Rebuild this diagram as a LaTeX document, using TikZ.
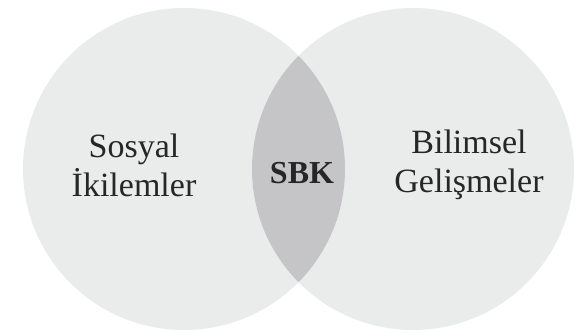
\documentclass[tikz,border=0pt]{standalone}
\usepackage{fontspec}
\setmainfont{Liberation Serif}
\definecolor{kumegri}{HTML}{EAEBEB}
\definecolor{kesisim}{HTML}{C5C5C7}
\definecolor{yazi}{HTML}{262626}
\begin{document}
\begin{tikzpicture}[x=1pt,y=1pt,
  kume/.style ={circle, fill=kumegri, minimum size=322pt, inner sep=0pt},
  etiket/.style ={align=center, text=yazi, font=\fontsize{34}{39}\selectfont}]
  \useasboundingbox (0,0) rectangle (575,334);
  \node[kume] (sol) at (184,165) {};
  \node[kume] (sag) at (413,165) {};
  % kesisim bolgesi
  \begin{scope}
    \clip (sol.center) circle (161);
    \fill[kesisim] (sag.center) circle (161);
  \end{scope}
  \node[etiket] (sosyal) at (134,169) {Sosyal\\İkilemler};
  \node[etiket, font=\fontsize{32}{38}\selectfont] (sbk) at (302,161) {\textbf{SBK}};
  \node[etiket] (bilimsel) at (469,169) {Bilimsel\\Gelişmeler};
\end{tikzpicture}
\end{document}
